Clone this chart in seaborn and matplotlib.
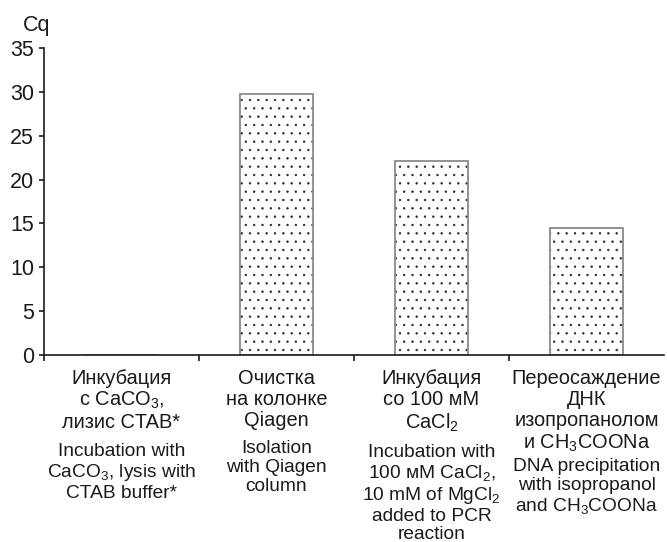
import matplotlib
matplotlib.use("Agg")
import matplotlib.pyplot as plt
import matplotlib.colors as mcolors
import seaborn as sns
import pandas as pd

# ---- data ----
labels_ru = [
    "Инкубация\nс CaCO$_3$,\nлизис CTAB*",
    "Очистка\nна колонке\nQiagen",
    "Инкубация\nсо 100 мМ\nCaCl$_2$",
    "Переосаждение\nДНК\nизопропанолом\nи CH$_3$COONa",
]
labels_en = [
    "Incubation with\nCaCO$_3$, lysis with\nCTAB buffer*",
    "Isolation\nwith Qiagen\ncolumn",
    "Incubation with\n100 мМ CaCl$_2$,\n10 mM of MgCl$_2$\nadded to PCR\nreaction",
    "DNA precipitation\nwith isopropanol\nand CH$_3$COONa",
]
cq_values = [0.0, 29.7, 22.1, 14.45]
y_ticks = [0, 5, 10, 15, 20, 25, 30, 35]
y_label = "Cq"

# ---- style ----
sns.set_style("ticks")
plt.rcParams["font.family"] = ["Liberation Sans", "DejaVu Sans"]
plt.rcParams["mathtext.fontset"] = "custom"
plt.rcParams["mathtext.rm"] = "Liberation Sans"
plt.rcParams["mathtext.it"] = "Liberation Sans:italic"
plt.rcParams["mathtext.bf"] = "Liberation Sans:bold"
plt.rcParams["hatch.linewidth"] = 0.5

W, H = 667, 542
fig = plt.figure(figsize=(W / 100, H / 100), dpi=100)
ax = fig.add_axes([43.8 / W, 1 - 355.3 / H, (664 - 43.8) / W, (355.3 - 47.7) / H])

df = pd.DataFrame({"method": labels_ru, "cq": cq_values})
sns.barplot(data=df, x="method", y="cq", ax=ax, color="white",
            edgecolor="#8a8a8a", linewidth=1.3, width=0.468, hatch="..",
            errorbar=None)
for p in ax.patches:
    p.set_facecolor("white")
    p._hatch_color = mcolors.to_rgba("#2a2a2a")

ax.set_xlim(-0.5, 3.5)
ax.set_ylim(0, 35)
ax.set_yticks(y_ticks)
ax.set_yticklabels([str(v) for v in y_ticks])
ax.set_xticks([-0.5, 0.5, 1.5, 2.5])
ax.set_xticklabels([])
ax.set_xlabel("")
ax.set_ylabel("")
sns.despine(ax=ax)
for s in ("left", "bottom"):
    ax.spines[s].set_linewidth(1.2)
    ax.spines[s].set_color("#1a1a1a")
ax.tick_params(axis="y", length=3.3, width=1.2, pad=3.6, labelsize=15.5,
               colors="#1a1a1a", direction="out")
ax.tick_params(axis="x", length=4.5, width=1.2, direction="out", colors="#1a1a1a")

fig.text(36.5 / W, 1 - 30.7 / H, y_label, ha="center", va="baseline",
         fontsize=15.5, color="#1a1a1a")

gaps = [-7.5, -7.5, -7.5, -3.0]
trans = matplotlib.transforms.blended_transform_factory(ax.transData, fig.transFigure)
for i, (ru, en) in enumerate(zip(labels_ru, labels_en)):
    t = ax.text(i, 1 - 368.5 / H, ru, transform=trans, ha="center", va="top",
                fontsize=14.4, linespacing=1.15, color="#1a1a1a")
    ax.annotate(en, xy=(0.5, 0), xycoords=t, xytext=(0, gaps[i]),
                textcoords="offset points", ha="center", va="top",
                fontsize=13.8, linespacing=1.13, color="#1a1a1a")

fig.savefig("out.png", dpi=100)
